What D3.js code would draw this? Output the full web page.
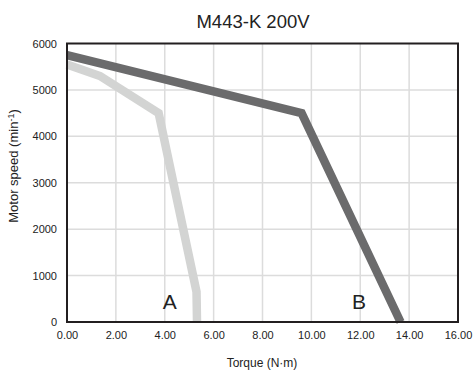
<!DOCTYPE html>
<html><head><meta charset="utf-8">
<script src="https://cdn.jsdelivr.net/npm/d3@7"></script>
<style>body{margin:0;background:#fff}svg{display:block}text{font-family:Arial,"Liberation Sans",sans-serif}</style>
</head><body>
<svg id="c" width="474" height="372"></svg>
<script>
const title = "M443-K 200V";
const xTicks = [0,2,4,6,8,10,12,14,16];
const yTicks = [0,1000,2000,3000,4000,5000,6000];
const torqueA = [0, 1.35, 3.75, 5.3, 5.32];
const speedA  = [5550, 5300, 4500, 650, 0];
const torqueB = [0, 9.6, 13.65];
const speedB  = [5750, 4500, 0];
const labels = [{t:"A", x:4.2, y:200}, {t:"B", x:11.95, y:200}];

const svg = d3.select("#c");
const x = d3.scaleLinear().domain([0,16]).range([67,458]);
const y = d3.scaleLinear().domain([0,6000]).range([322,43.5]);

// grid
svg.append("g").selectAll("line").data(xTicks.slice(1,-1)).join("line")
  .attr("x1",d=>x(d)).attr("x2",d=>x(d)).attr("y1",y(0)).attr("y2",y(6000))
  .attr("stroke","#dcdcdc").attr("stroke-width",1.5);
svg.append("g").selectAll("line").data(yTicks.slice(1,-1)).join("line")
  .attr("y1",d=>y(d)).attr("y2",d=>y(d)).attr("x1",x(0)).attr("x2",x(16))
  .attr("stroke","#dcdcdc").attr("stroke-width",1.5);

const line = d3.line().x(d=>x(d[0])).y(d=>y(d[1]));
svg.append("path").datum(torqueA.map((t,i)=>[t,speedA[i]]))
  .attr("d",line).attr("fill","none").attr("stroke","#d3d4d3").attr("stroke-width",8.5).attr("stroke-linejoin","miter");
svg.append("path").datum(torqueB.map((t,i)=>[t,speedB[i]]))
  .attr("d",line).attr("fill","none").attr("stroke","#6b6b6c").attr("stroke-width",8.5).attr("stroke-linejoin","miter");

svg.append("rect").attr("x",x(0)).attr("y",y(6000)).attr("width",x(16)-x(0)).attr("height",y(0)-y(6000))
  .attr("fill","none").attr("stroke","#231f20").attr("stroke-width",2);

// axes
const xa = svg.append("g").attr("transform",`translate(0,${y(0)})`)
  .call(d3.axisBottom(x).tickValues(xTicks).tickFormat(d3.format(".2f")).tickSize(0).tickPadding(9));
const ya = svg.append("g").attr("transform",`translate(${x(0)},0)`)
  .call(d3.axisLeft(y).tickValues(yTicks).tickFormat(d=>d).tickSize(0).tickPadding(10));
[xa,ya].forEach(g=>{g.select(".domain").remove();g.selectAll("text").attr("font-size",11).attr("fill","#222").style("font-family","Arial, 'Liberation Sans', sans-serif");});

svg.append("text").attr("x",253).attr("y",28).attr("text-anchor","middle").attr("font-size",18.5).attr("fill","#222").text(title);
svg.append("text").attr("x",262).attr("y",367).attr("text-anchor","middle").attr("font-size",12).attr("fill","#222").text("Torque (N·m)");
const yl = svg.append("text").attr("transform","translate(18,166) rotate(-90)").attr("text-anchor","middle").attr("font-size",13).attr("fill","#222");
yl.append("tspan").text("Motor speed (min");
yl.append("tspan").attr("dy",-4.5).attr("font-size",9).text("-1");
yl.append("tspan").attr("dy",4.5).text(")");

svg.append("g").selectAll("text").data(labels).join("text")
  .attr("x",d=>x(d.x)).attr("y",309).attr("text-anchor","middle").attr("font-size",21).attr("fill","#222").text(d=>d.t);
</script>
</body></html>
